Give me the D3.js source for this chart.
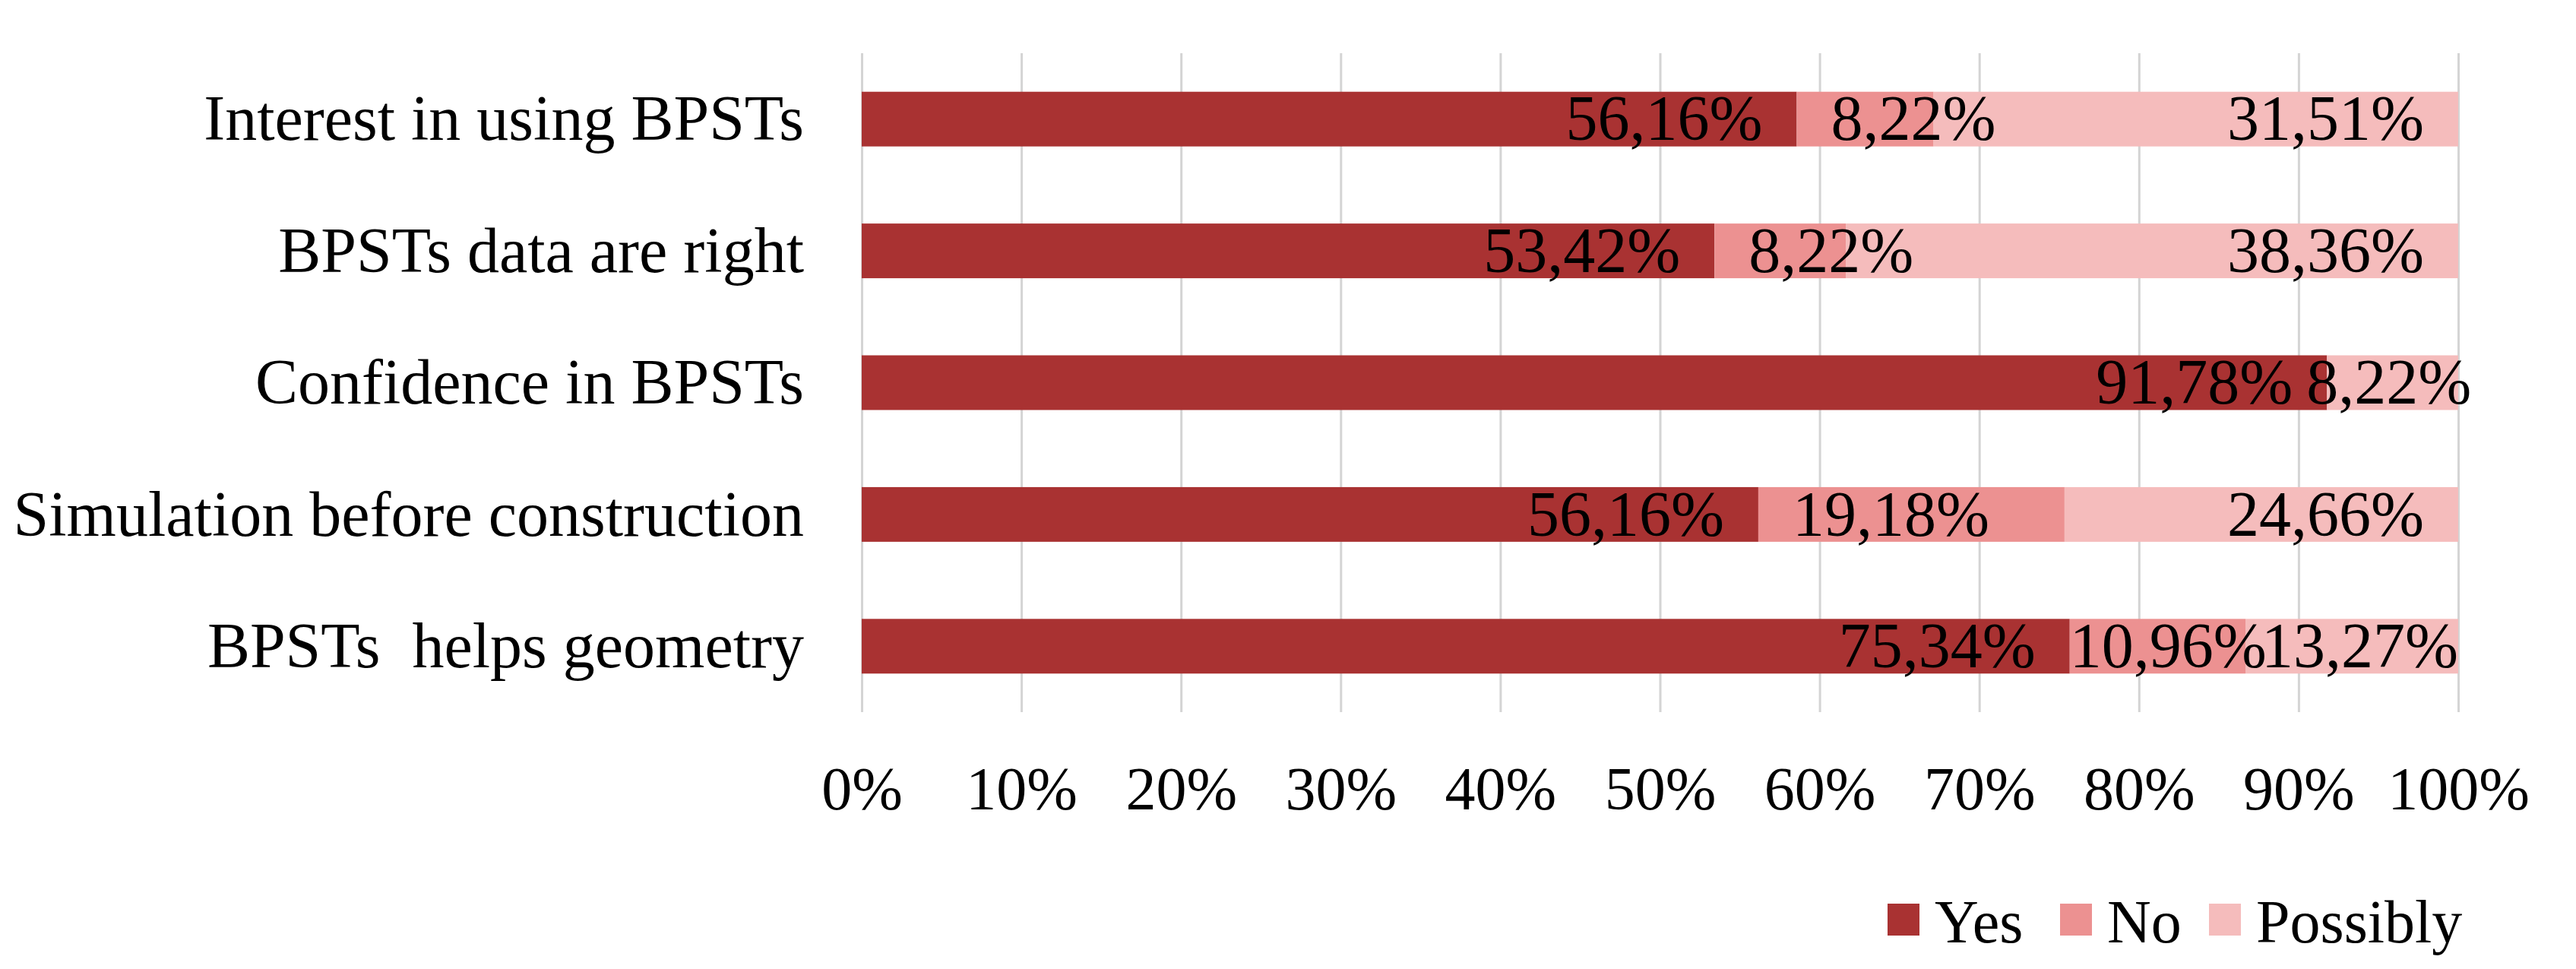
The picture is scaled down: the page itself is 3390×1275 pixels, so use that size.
<!DOCTYPE html>
<html>
<head>
<meta charset="utf-8">
<script src="https://cdn.jsdelivr.net/npm/d3@7"></script>
<style>
  html, body { margin: 0; padding: 0; background: #ffffff; }
  svg { display: block; }
  text { font-family: "Liberation Serif", "Times New Roman", serif; fill: #000; }
</style>
</head>
<body>
<svg id="chart" width="3390" height="1275"></svg>
<script>
// ---- data ----
const categories = [
  "Interest in using BPSTs",
  "BPSTs data are right",
  "Confidence in BPSTs",
  "Simulation before construction",
  "BPSTs  helps geometry"
];
const seriesNames = ["Yes", "No", "Possibly"];
const yesValues      = [56.16, 53.42, 91.78, 56.16, 75.34];
const noValues       = [8.22, 8.22, 0, 19.18, 10.96];
const possiblyValues = [31.51, 38.36, 8.22, 24.66, 13.27];
const tickValues = [0, 0.1, 0.2, 0.3, 0.4, 0.5, 0.6, 0.7, 0.8, 0.9, 1.0];
const tickLabels = ["0%", "10%", "20%", "30%", "40%", "50%", "60%", "70%", "80%", "90%", "100%"];
const colors = ["#a93232", "#ec9191", "#f5bcbc"];

// ---- layout ----
const plot = { left: 1134, right: 3235, top: 70, bottom: 937 };
const CAT_FONT = 84, TICK_FONT = 80, LABEL_FONT = 84, LEGEND_FONT = 80;

const svg = d3.select("#chart");

const x = d3.scaleLinear().domain([0, 1]).range([plot.left, plot.right]);
const y = d3.scaleBand().domain(categories)
  .range([plot.top, plot.bottom])
  .paddingInner(0.585).paddingOuter(0.2925);
const color = d3.scaleOrdinal().domain(seriesNames).range(colors);

// rows -> 100% stacked
const rows = categories.map((c, i) => {
  const vals = [yesValues[i], noValues[i], possiblyValues[i]];
  const total = d3.sum(vals);
  const r = { category: c, total };
  seriesNames.forEach((s, j) => { r[s] = vals[j] / total; r[s + "_raw"] = vals[j]; });
  return r;
});
const stacked = d3.stack().keys(seriesNames)(rows);

// gridlines (via axis)
const gridAxis = d3.axisBottom(x).tickValues(tickValues)
  .tickSize(-(plot.bottom - plot.top)).tickFormat("");
const grid = svg.append("g")
  .attr("transform", `translate(0,${plot.bottom})`)
  .call(gridAxis);
grid.select(".domain").remove();
grid.selectAll(".tick line").attr("stroke", "#d4d4d4").attr("stroke-width", 3);

// bars
const layers = svg.append("g").selectAll("g").data(stacked).join("g")
  .attr("fill", d => color(d.key));
layers.selectAll("rect").data(d => d.map(v => ({ key: d.key, v })))
  .join("rect")
  .attr("x", d => x(d.v[0]))
  .attr("width", d => Math.max(0, x(d.v[1]) - x(d.v[0])))
  .attr("y", d => y(d.v.data.category))
  .attr("height", y.bandwidth());

// x tick labels (axis)
const xAxis = d3.axisBottom(x).tickValues(tickValues)
  .tickFormat((d, i) => tickLabels[i]).tickSize(0).tickPadding(0);
const xg = svg.append("g")
  .attr("transform", `translate(0,${plot.bottom})`)
  .call(xAxis);
xg.select(".domain").remove();
xg.selectAll("text")
  .attr("font-family", "Liberation Serif")
  .attr("font-size", TICK_FONT)
  .attr("y", 128).attr("dy", 0);

// y category labels (axis)
const yAxis = d3.axisLeft(y).tickSize(0).tickPadding(76);
const yg = svg.append("g")
  .attr("transform", `translate(${plot.left},0)`)
  .call(yAxis);
yg.select(".domain").remove();
yg.selectAll("text")
  .attr("font-family", "Liberation Serif")
  .attr("font-size", CAT_FONT)
  .attr("dy", "0.33em")
  .style("white-space", "pre");

// data labels
const PAD = 45, GAP = 18;
const labelG = svg.append("g").attr("font-size", LABEL_FONT);
const fmt = v => v.toFixed(2).replace(".", ",") + "%";

rows.forEach((r, i) => {
  const cy = y(r.category) + y.bandwidth() / 2;
  const labels = [];
  seriesNames.forEach((s, j) => {
    if (r[s + "_raw"] <= 0) return;
    const seg = stacked[j][i];
    const t = labelG.append("text")
      .attr("y", cy).attr("dy", "0.33em")
      .text(fmt(r[s + "_raw"]));
    const w = t.node().getComputedTextLength();
    let x0;
    if (s === "No") x0 = x(seg[0]) + PAD;          // inside base
    else x0 = x(seg[1]) - PAD - w;                  // inside end
    labels.push({ s, t, w, x0, seg });
  });
  // resolve overlaps
  for (let k = 1; k < labels.length; k++) {
    const prev = labels[k - 1], cur = labels[k];
    if (prev.x0 + prev.w > cur.x0) {
      if (prev.s === "No") {
        prev.x0 = x(prev.seg[0]);
        cur.x0 = x(cur.seg[1]) - cur.w;
      } else {
        cur.x0 = prev.x0 + prev.w + GAP;
      }
    }
  }
  labels.forEach(l => l.t.attr("x", l.x0));
});

// legend
const legend = svg.append("g").attr("font-size", LEGEND_FONT);
const legendX = [2484, 2711, 2907];
seriesNames.forEach((s, j) => {
  const g = legend.append("g").attr("transform", `translate(${legendX[j]},0)`);
  g.append("rect").attr("x", 0).attr("y", 1189).attr("width", 42).attr("height", 42)
    .attr("fill", color(s));
  g.append("text").attr("x", 62).attr("y", 1240).text(s);
});
</script>
</body>
</html>
